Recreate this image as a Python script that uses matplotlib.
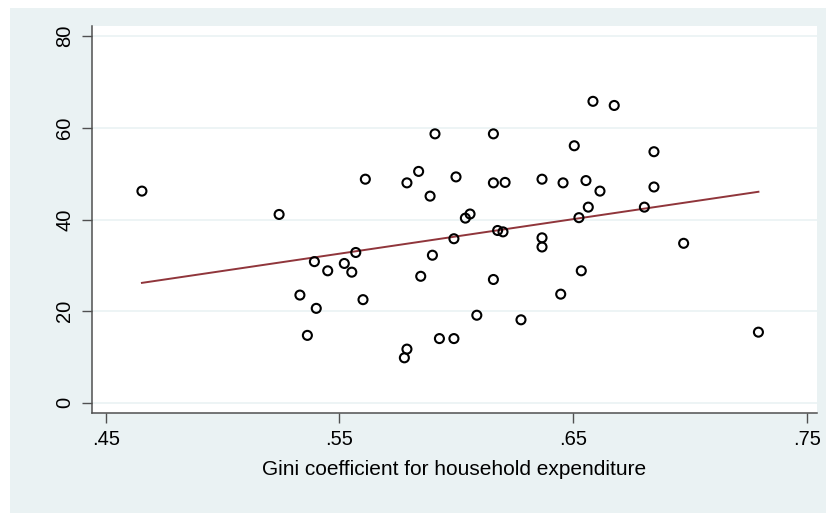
import numpy as np
import matplotlib.pyplot as plt
from matplotlib.patches import Rectangle

plt.rcParams['font.family'] = ['Liberation Sans', 'DejaVu Sans']

# Gini coefficient vs outcome (%), one point per unit
gini = [0.4655, 0.5242, 0.5909, 0.5839, 0.5611, 0.5789, 0.5888, 0.5570,
        0.5898, 0.5393, 0.5521, 0.5450, 0.5553, 0.5848, 0.5331, 0.5401,
        0.5601, 0.5363, 0.5789, 0.5778, 0.5928,
        0.6585, 0.6676, 0.6159, 0.6505, 0.6846, 0.5999, 0.6159, 0.6209,
        0.6367, 0.6457, 0.6555, 0.6615, 0.6846, 0.6565, 0.6805, 0.6059,
        0.6039, 0.6525, 0.6177, 0.6200, 0.5990, 0.6367, 0.6367, 0.6973,
        0.6159, 0.6535, 0.6447, 0.6088, 0.6277, 0.5990, 0.7293]
outcome = [46.2, 41.1, 58.7, 50.5, 48.8, 48.0, 45.1, 32.8,
           32.2, 30.8, 30.4, 28.8, 28.5, 27.6, 23.5, 20.6,
           22.5, 14.7, 11.7, 9.8, 14.0,
           65.8, 64.9, 58.7, 56.1, 54.8, 49.3, 48.0, 48.1,
           48.8, 48.0, 48.5, 46.2, 47.1, 42.7, 42.7, 41.2,
           40.3, 40.4, 37.6, 37.3, 35.8, 36.0, 34.0, 34.8,
           26.9, 28.8, 23.7, 19.1, 18.1, 14.0, 15.4]

xticks = [0.45, 0.55, 0.65, 0.75]
xticklabels = ['.45', '.55', '.65', '.75']
yticks = [0, 20, 40, 60, 80]

BG = '#eaf2f3'
AXIS = '#505050'
FIT = '#90353b'

fig = plt.figure(figsize=(8.26, 5.13), dpi=100, facecolor='white')
W, H = 826, 513
fig.patches.append(Rectangle((10 / W, 0), 1 - 10 / W, 1 - 8 / H,
                             transform=fig.transFigure, facecolor=BG,
                             edgecolor='none', zorder=-10))

ax = fig.add_axes([92.4 / W, 1 - 413.3 / H, (816.7 - 92.4) / W, (413.3 - 26) / H])
ax.set_facecolor('white')

# pixel mapping: x .45 -> 105.7, 0.1 per 233.7 px ; y 0 -> 402.7, 20 per 91.6 px
xpx = lambda v: 0.45 + (v - 105.7) / 2337.0
ypx = lambda v: (402.7 - v) / 4.58
ax.set_xlim(xpx(92.4), xpx(816.7))
ax.set_ylim(ypx(413.3), ypx(26))

for y in yticks:
    ax.axhline(y, color=BG, linewidth=1.2, zorder=1)

x = np.array(gini)
y = np.array(outcome)
slope, icpt = np.polyfit(x, y, 1)
xs = np.array([x.min(), x.max()])
ax.plot(xs, icpt + slope * xs, color=FIT, linewidth=1.4, zorder=2)

ax.scatter(x, y, s=42, facecolors='none', edgecolors='black', linewidths=1.5, zorder=3)

ax.set_xticks(xticks)
ax.set_xticklabels(xticklabels)
ax.set_yticks(yticks)
ax.set_yticklabels([str(t) for t in yticks], rotation=90, va='center')
ax.tick_params(axis='both', direction='out', length=7, width=1, color=AXIS,
               labelsize=14.5, labelcolor='black')
ax.tick_params(axis='x', pad=5)
ax.tick_params(axis='y', pad=6)

for side in ['top', 'right']:
    ax.spines[side].set_visible(False)
for side in ['left', 'bottom']:
    ax.spines[side].set_color(AXIS)
    ax.spines[side].set_linewidth(1.1)

ax.set_xlabel('Gini coefficient for household expenditure', fontsize=15, labelpad=8)

fig.savefig('out.png', dpi=100, facecolor=fig.get_facecolor())
